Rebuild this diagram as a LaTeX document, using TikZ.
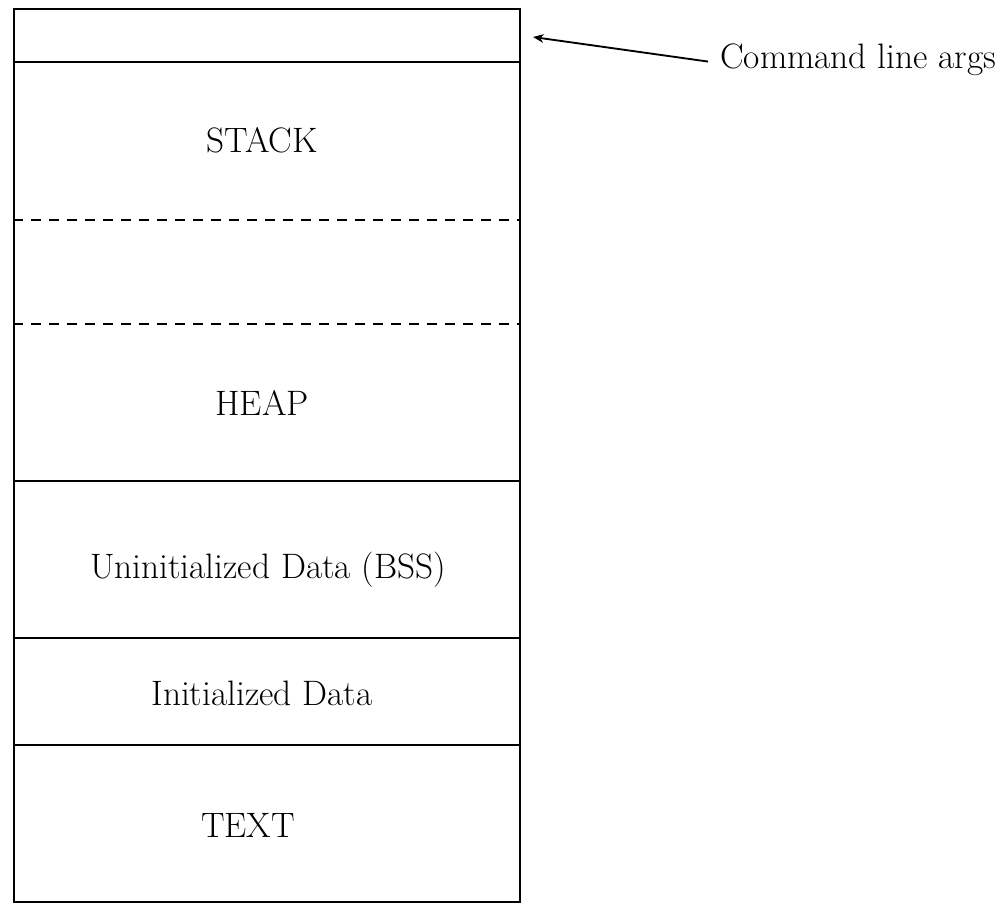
\documentclass[tikz,border=0pt]{standalone}
\usetikzlibrary{arrows.meta}
\begin{document}
\begin{tikzpicture}[x=0.75pt,y=-0.75pt,
  edge/.style={line width=1.5pt},
  split/.style={line width=1.5pt, dash pattern=on 7.5pt off 6pt},
  seglabel/.style={anchor=base, inner sep=0pt, font=\fontsize{26.5}{30}\selectfont},
  pointer/.style={line width=1.4pt, -{Stealth[length=8pt,width=6.5pt]}}]
\useasboundingbox (0,0) rectangle (1001,904);

% outer frame of the memory layout
\node[draw, edge, anchor=north west, inner sep=0pt,
      minimum width=379.5pt, minimum height=669.75pt] (mem) at (13,8) {};

% segment boundaries
\draw[edge]  (mem.west |- 0,62)  -- (mem.east |- 0,62);
\draw[split] (mem.west |- 0,220) -- (mem.east |- 0,220);
\draw[split] (mem.west |- 0,324) -- (mem.east |- 0,324);
\draw[edge]  (mem.west |- 0,481) -- (mem.east |- 0,481);
\draw[edge]  (mem.west |- 0,638) -- (mem.east |- 0,638);
\draw[edge]  (mem.west |- 0,745) -- (mem.east |- 0,745);

% segment names
\node[seglabel] (stack) at (262,152) {STACK};
\node[seglabel] (heap)  at (262,415) {HEAP};
\node[seglabel] (bss)   at (268,578) {Uninitialized Data (BSS)};
\node[seglabel] (data)  at (262,705) {Initialized Data};
\node[seglabel] (text)  at (248,837) {TEXT};

% arguments pointer
\node[seglabel, anchor=base west] (args) at (720,68) {Command line args};
\coordinate (argtip) at (533,37);
\draw[pointer, shorten <=9pt] ([yshift=-3]args.west) -- (argtip);
\end{tikzpicture}
\end{document}
